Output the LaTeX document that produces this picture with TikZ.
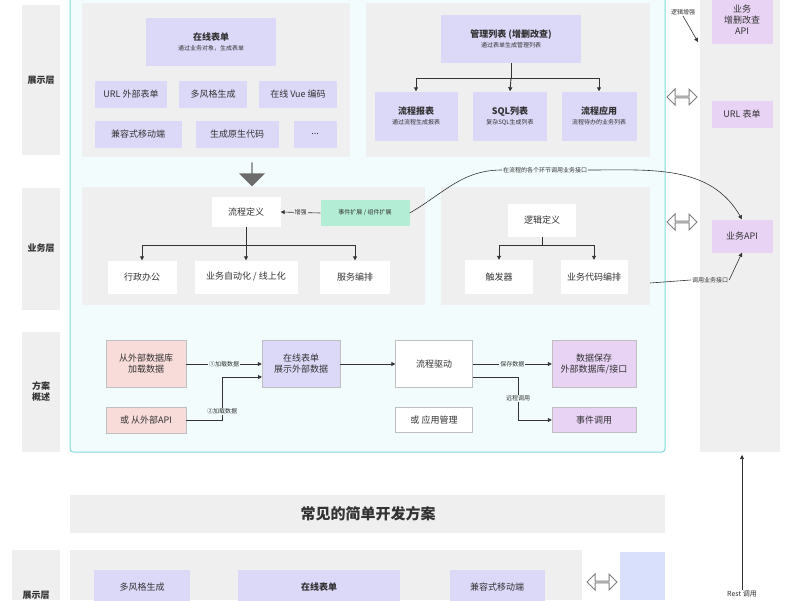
\documentclass[tikz,border=0pt]{standalone}
\usepackage{fontspec}
\setmainfont{Noto Sans CJK SC}
\usetikzlibrary{arrows.meta,shapes.arrows}
\definecolor{pu}{HTML}{DCD8F8}
\definecolor{pk}{HTML}{E8D3F5}
\definecolor{rd}{HTML}{F8DCDA}
\definecolor{gn}{HTML}{B4EDD6}
\definecolor{gr}{HTML}{EFEFEF}
\definecolor{cy}{HTML}{80DCDC}
\definecolor{cyf}{HTML}{F2FCFC}
\definecolor{bl}{HTML}{D8E0FC}
\definecolor{tx}{HTML}{333333}
\begin{document}
\begin{tikzpicture}[x=1pt,y=-1pt,
 bx/.style={draw=none,inner sep=0pt,align=center,font=\fontsize{9}{11}\selectfont,text=tx},
 lay/.style={fill=gr,draw=none,font=\fontsize{9}{11}\selectfont\bfseries,text=tx,align=center},
 lb/.style={font=\fontsize{6}{7}\selectfont,text=tx,inner sep=1pt},
 ar/.style={-{Triangle[length=4pt,width=4pt]},line width=0.9pt,tx},
 dar/.style={double arrow,draw=gray,line width=1pt,fill=white,minimum width=16pt,minimum height=30pt,double arrow head extend=4pt,inner sep=0pt}]
\useasboundingbox (0,0) rectangle (800,600);
\fill[white] (0,0) rectangle (800,600);
% layer labels
\fill[gr] (22,5) rectangle (60,155); \node[lay,fill=none] at (41,80) {展示层};
\fill[gr] (22,188) rectangle (60,310); \node[lay,fill=none] at (41,248) {业务层};
\fill[gr] (22,332) rectangle (60,452); \node[lay,fill=none] at (41,392) {方案\\概述};
\fill[gr] (12,550) rectangle (60,600); \node[lay,fill=none] at (36,595) {展示层};
% right column
\fill[gr] (700,0) rectangle (780,452);
% cyan frame
\draw[cy,fill=cyf,line width=1pt,rounded corners=3pt] (70,-10) rectangle (665,452);
\fill[gr] (82,3) rectangle (350,157);
\fill[gr] (366,3) rectangle (650,157);
\fill[gr] (82,187) rectangle (425,305);
\fill[gr] (441,187) rectangle (650,305);
% presentation nodes
\node[bx,fill=pu,minimum width=130pt,minimum height=48pt] (zx) at (211,42) {\textbf{在线表单}\\[-1pt]{\fontsize{6}{7}\selectfont 通过业务对象，生成表单}};
\node[bx,fill=pu,minimum width=72pt,minimum height=27pt] (url) at (131,94) {URL 外部表单};
\node[bx,fill=pu,minimum width=68pt,minimum height=27pt] (dfg) at (213,94) {多风格生成};
\node[bx,fill=pu,minimum width=78pt,minimum height=27pt] (vue) at (298,94) {在线 Vue 编码};
\node[bx,fill=pu,minimum width=87pt,minimum height=27pt] (jrs) at (138,134) {兼容式移动端};
\node[bx,fill=pu,minimum width=83pt,minimum height=27pt] (ysd) at (237,134) {生成原生代码};
\node[bx,fill=pu,minimum width=43pt,minimum height=27pt] (dot) at (315,134) {...};
\node[bx,fill=pu,minimum width=140pt,minimum height=48pt] (gl) at (511,39) {\textbf{管理列表 (增删改查)}\\[-1pt]{\fontsize{6}{7}\selectfont 通过表单生成管理列表}};
\node[bx,fill=pu,minimum width=83pt,minimum height=49pt] (lcbb) at (416,116) {\textbf{流程报表}\\[-1pt]{\fontsize{6}{7}\selectfont 通过流程生成报表}};
\node[bx,fill=pu,minimum width=74pt,minimum height=49pt] (sql) at (510,116) {\textbf{SQL列表}\\[-1pt]{\fontsize{6}{7}\selectfont 复杂SQL生成列表}};
\node[bx,fill=pu,minimum width=75pt,minimum height=49pt] (lcyy) at (599,116) {\textbf{流程应用}\\[-1pt]{\fontsize{6}{7}\selectfont 流程待办的业务列表}};
\draw[line width=1pt,tx] (gl.south) -- (511,78);
\draw[ar] (416,78) -- (lcbb.north);
\draw[ar] (511,78) -- (sql.north);
\draw[ar] (599,78) -- (lcyy.north);
\draw[line width=1pt,tx] (416,78) -- (599,78);
% big arrow
\node[single arrow,fill=gray!85!black,draw=none,shape border rotate=270,minimum width=26pt,single arrow head extend=4pt,minimum height=24pt,inner sep=0pt] (bigar) at (252,174) {};
% business
\node[bx,fill=white,minimum width=69pt,minimum height=30pt] (lcdy) at (246,212) {流程定义};
\node[bx,fill=gn,minimum width=89pt,minimum height=26pt,font=\fontsize{6}{7}\selectfont] (sjkz) at (365,213) {事件扩展 / 组件扩展};
\draw[ar,line width=0.6pt] (sjkz.west) -- node[lb,fill=gr]{增强} (lcdy.east);
\node[bx,fill=white,minimum width=69pt,minimum height=33pt] (xz) at (142,277) {行政办公};
\node[bx,fill=white,minimum width=103pt,minimum height=33pt] (yw) at (246,277) {业务自动化 / 线上化};
\node[bx,fill=white,minimum width=70pt,minimum height=33pt] (fw) at (355,277) {服务编排};
\draw[line width=1pt,tx] (lcdy.south) -- (246,245);
\draw[line width=1pt,tx] (142,245) -- (355,245);
\draw[ar] (142,245) -- (xz.north);
\draw[ar] (246,245) -- (yw.north);
\draw[ar] (355,245) -- (fw.north);
\node[bx,fill=white,minimum width=68pt,minimum height=33pt] (ljdy) at (542,220) {逻辑定义};
\node[bx,fill=white,minimum width=68pt,minimum height=34pt] (cfq) at (499,277) {触发器};
\node[bx,fill=white,minimum width=67pt,minimum height=34pt] (ywdm) at (594,277) {业务代码编排};
\draw[line width=1pt,tx] (ljdy.south) -- (542,245) (499,245) -- (594,245);
\draw[ar] (499,245) -- (cfq.north);
\draw[ar] (594,245) -- (ywdm.north);
% right column nodes
\node[bx,fill=pk,minimum width=61pt,minimum height=48pt] (crud) at (742,20) {业务\\增删改查\\API};
\node[bx,fill=pk,minimum width=61pt,minimum height=27pt] (urlb) at (742,114) {URL 表单};
\node[bx,fill=pk,minimum width=61pt,minimum height=33pt] (ywapi) at (742,236) {业务API};
\node[lb] (ljzq) at (683,12) {逻辑增强};
\draw[-{Triangle[length=4pt,width=4pt]},line width=0.6pt,tx] (ljzq.south) -- (698,42);
\node[dar] (da1) at (682,97) {};
\node[dar] (da2) at (682,222) {};
\node[lb,fill=cyf] (zlc) at (545,170) {在流程的各个环节调用业务接口};
\draw[line width=0.6pt,tx] (sjkz.east) to[out=30,in=180] (zlc.west);
\draw[-{Triangle[length=4pt,width=4pt]},line width=0.6pt,tx] (zlc.east) to[out=0,in=120] (ywapi.north);
\node[lb] (dyjk) at (710,280) {调用业务接口};
\draw[line width=0.6pt,tx] (650,283) -- (dyjk.west);
\draw[-{Triangle[length=4pt,width=4pt]},line width=0.6pt,tx] (dyjk.east) -- (ywapi.south);
% scheme
\node[bx,fill=rd,draw=gray!50,minimum width=80pt,minimum height=47pt] (wsk) at (146,364) {从外部数据库\\加载数据};
\node[bx,fill=rd,draw=gray!50,minimum width=80pt,minimum height=26pt] (wapi) at (146,420) {或 从外部API};
\node[bx,fill=pu,draw=gray!50,minimum width=78pt,minimum height=47pt] (zxbd) at (301,364) {在线表单\\展示外部数据};
\node[bx,fill=white,draw=gray!50,minimum width=77pt,minimum height=47pt] (lcqd) at (434,364) {流程驱动};
\node[bx,fill=white,draw=gray!50,minimum width=77pt,minimum height=25pt] (yygl) at (434,420) {或 应用管理};
\node[bx,fill=pk,draw=gray!50,minimum width=84pt,minimum height=47pt] (sjbc) at (594,364) {数据保存\\外部数据库/接口};
\node[bx,fill=pk,draw=gray!50,minimum width=84pt,minimum height=25pt] (sjdy) at (594,420) {事件调用};
\draw[ar] (wsk.east) -- node[lb,fill=cyf]{①加载数据} (zxbd.west);
\draw[ar] (wapi.east) -- (222,420) -- node[lb,fill=cyf,pos=0.2]{②加载数据} (222,377) -- (262,377);
\draw[ar] (zxbd.east) -- (lcqd.west);
\draw[ar] (lcqd.east) -- node[lb,fill=cyf]{保存数据} (sjbc.west);
\draw[ar] (473,377) -- (518,377) -- node[lb,fill=cyf,pos=0.5]{远程调用} (518,420) -- (sjdy.west);
% common
\fill[gr] (70,495) rectangle (665,533);
\node[font=\fontsize{15}{17}\selectfont\bfseries,text=tx] (cj) at (368,514) {常见的简单开发方案};
\fill[gr] (70,550) rectangle (582,600);
\node[bx,fill=pu,minimum width=96pt,minimum height=34pt,anchor=north] (b1) at (142,570) {多风格生成};
\node[bx,fill=pu,minimum width=162pt,minimum height=34pt,anchor=north] (b2) at (319,570) {\textbf{在线表单}};
\node[bx,fill=pu,minimum width=95pt,minimum height=34pt,anchor=north] (b3) at (497,570) {兼容式移动端};
\node[dar] (da3) at (602,582) {};
\fill[bl] (620,552) rectangle (665,600);
\node[lb,font=\fontsize{7}{8}\selectfont] (rest) at (742,594) {Rest 调用};
\draw[-{Triangle[length=4pt,width=4pt]},line width=0.6pt,tx] (rest.north) -- (742,455);
\end{tikzpicture}
\end{document}
